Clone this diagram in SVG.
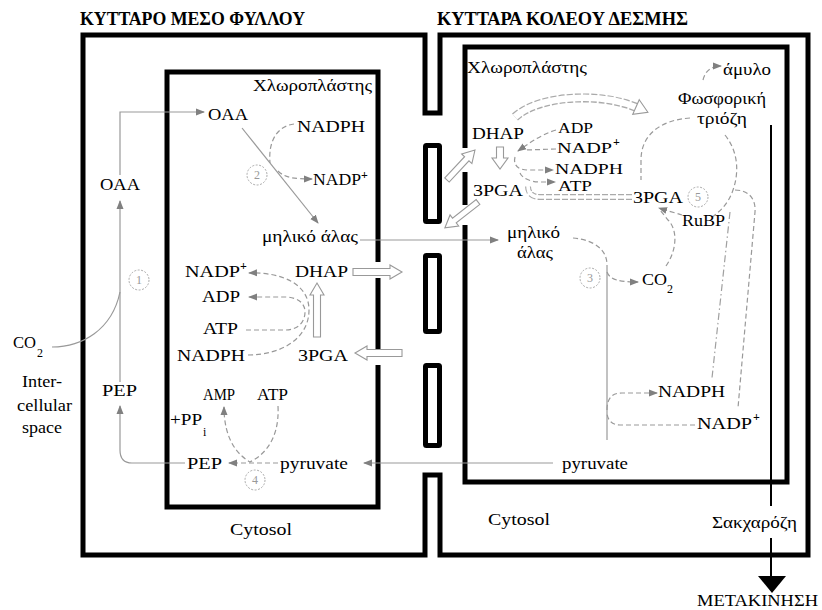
<svg xmlns="http://www.w3.org/2000/svg" width="822" height="610" viewBox="0 0 822 610">
<defs>
<marker id="ah" markerWidth="9" markerHeight="8" refX="8" refY="4" orient="auto" markerUnits="userSpaceOnUse">
<path d="M0,0.5 L9,4 L0,7.5 Z" fill="#808080"/>
</marker>
<style>
text{font-family:"Liberation Serif","DejaVu Serif",serif;fill:#000}
.t{font-size:17px}
.tt{font-size:15px}
.g{font-size:16px}
.s{font-size:12px}
.title{font-size:19px;font-weight:bold}
.wall{fill:none;stroke:#000;stroke-width:5;stroke-linejoin:miter}
.c{fill:none;stroke:#999;stroke-width:1.2}
.d{fill:none;stroke:#999;stroke-width:1.2;stroke-dasharray:5,3}
.dd{fill:none;stroke:#a0a0a0;stroke-width:1.2;stroke-dasharray:7,3,1.5,3}
.hollow{fill:#fff;stroke:#999;stroke-width:1.1}
.num circle{fill:none;stroke:#aaa;stroke-width:1;stroke-dasharray:2,1.5}
.num text{font-size:12px;fill:#999;text-anchor:middle}
</style>
</defs>

<g id="titles">
<text class="title" x="80" y="25" textLength="225" lengthAdjust="spacingAndGlyphs">ΚΥΤΤΑΡΟ ΜΕΣΟ ΦΥΛΛΟΥ</text>
<text class="title" x="437" y="25" textLength="251" lengthAdjust="spacingAndGlyphs">ΚΥΤΤΑΡΑ ΚΟΛΕΟΥ ΔΕΣΜΗΣ</text>
</g>

<g id="cell-walls">
<path class="wall" d="M83,35 L425,35 L425,113 L440,113 L440,35 L808,35 L808,555 L440,555 L440,475 L425,475 L425,555 L83,555 Z"/>
<rect class="wall" x="425.5" y="145.5" width="14" height="76" rx="1"/>
<rect class="wall" x="425.5" y="255.5" width="14" height="76" rx="1"/>
<rect class="wall" x="425.5" y="365.5" width="14" height="80" rx="1"/>
</g>

<g id="mesophyll-chloroplast">
<path class="wall" d="M378,262 L378,72 L167,72 L167,507 L378,507 L378,365 M378,350 L378,278"/>
<text class="g" x="253" y="91" textLength="119" lengthAdjust="spacingAndGlyphs">Χλωροπλάστης</text>
</g>

<g id="bundle-sheath-chloroplast">
<path class="wall" d="M465,148 L465,47 L787,47 L787,482 L465,482 L465,225 M465,205 L465,172"/>
<text class="g" x="467" y="73" textLength="120" lengthAdjust="spacingAndGlyphs">Χλωροπλάστης</text>
</g>

<g id="connectors">
<path class="c" d="M120,382 L120,201" marker-end="url(#ah)"/>
<path class="c" d="M120,175 L120,112 L204,112" marker-end="url(#ah)"/>
<path class="c" d="M52,347 C82,347 112,330 120,292"/>
<path class="c" d="M185,463 L132,463 C124,463 120,458 120,450 L120,406" marker-end="url(#ah)"/>
<path class="c" d="M553,463 L364,463" marker-end="url(#ah)"/>
<path class="c" d="M242,128 L318,223" marker-end="url(#ah)"/>
<path class="d" d="M294,124 C278,126 268,140 270,163"/>
<path class="d" d="M278,171 C285,178 295,179 312,179" marker-end="url(#ah)"/>
<path class="c" d="M360,240 L498,240" marker-end="url(#ah)"/>
<path class="d" d="M246,330 L285,330 C300,330 305,320 305,312 C305,302 296,297 285,297 L249,297" marker-end="url(#ah)"/>
<path class="d" d="M248,355 C282,355 309,338 309,310 C309,284 282,272 249,273" marker-end="url(#ah)"/>
<path class="d" d="M278,463 L229,463" marker-end="url(#ah)"/>
<path class="d" d="M278,406 C280,445 258,458 250,462 C238,455 224,440 224,407" marker-end="url(#ah)"/>
<polygon class="hollow" points="353,268.5 390,268.5 390,265 402,272 390,279 390,275.5 353,275.5"/>
<polygon class="hollow" points="402,349.5 367,349.5 367,346 355,353 367,360 367,356.5 402,356.5"/>
<polygon class="hollow" points="313.5,337 313.5,295 310,295 317,283 324,295 320.5,295 320.5,337"/>
<polygon class="hollow" transform="translate(447,180) rotate(-47)" points="0,-3 29,-3 29,-7 41,0 29,7 29,3 0,3"/>
<polygon class="hollow" transform="translate(478,202) rotate(142)" points="0,-3 30,-3 30,-7 42,0 30,7 30,3 0,3"/>
<polygon class="hollow" transform="translate(500,147) rotate(90)" points="0,-3.5 11,-3.5 11,-8 22,0 11,8 11,3.5 0,3.5"/>
<path d="M515,117 C540,95 600,92 638,108" fill="none" stroke="#aaa" stroke-width="9" stroke-dasharray="6,2"/>
<path d="M515,117 C540,95 600,92 638,108" fill="none" stroke="#fff" stroke-width="6.5"/>
<polygon class="hollow" transform="translate(636,107) rotate(24)" points="0,-8 13,0 0,8"/>
<path d="M632,197 L540,197 C532,197 528,193 528,186" fill="none" stroke="#aaa" stroke-width="6" stroke-dasharray="6,2"/>
<path d="M632,197 L540,197 C532,197 528,193 528,186" fill="none" stroke="#fff" stroke-width="3.5"/>
<path class="d" d="M556,130 C540,135 528,144 518,151" marker-end="url(#ah)"/>
<path class="d" d="M556,149 L526,150"/>
<path class="d" d="M515,157 C513,165 518,170 528,170 L553,170" marker-end="url(#ah)"/>
<path class="d" d="M520,173 C522,178 530,182 540,182 L555,182" marker-end="url(#ah)"/>
<path class="d" d="M690,118 C660,120 641,135 641,160 L641,180"/>
<path class="d" d="M725,135 C737,150 740,170 733,190 C728,205 718,213 712,217"/>
<path class="d" d="M682,215 C676,213 668,211 659,208" marker-end="url(#ah)"/>
<path class="d" d="M666,266 C677,250 678,230 668,220 L660,210"/>
<path class="d" d="M703,80 C705,72 710,66 721,66" marker-end="url(#ah)"/>
<path class="d" d="M573,238 C595,240 607,250 607,265"/>
<path class="c" d="M607,265 L607,440"/>
<path class="d" d="M607,272 C610,280 620,282 638,282" marker-end="url(#ah)"/>
<path class="d" d="M607,410 C607,398 612,393 622,393 L657,393" marker-end="url(#ah)"/>
<path class="d" d="M695,425 L620,425 C612,425 607,420 607,412"/>
<path class="dd" d="M730,212 L712,378"/>
<path class="d" d="M735,190 C748,190 756,198 755,212 L738,408"/>
<path d="M771,125 L771,506 M771,538 L771,578" fill="none" stroke="#000" stroke-width="2"/>
<polygon points="758,576 786,576 772,593" fill="#000"/>
</g>

<g id="labels-mesophyll">
<text class="t" x="208" y="120" textLength="40" lengthAdjust="spacingAndGlyphs">OAA</text>
<text class="t" x="297" y="132" textLength="68" lengthAdjust="spacingAndGlyphs">NADPH</text>
<text class="t" x="313" y="185" textLength="48" lengthAdjust="spacingAndGlyphs">NADP</text>
<text class="s" x="361" y="179" font-weight="bold">+</text>
<text class="g" x="262" y="242" textLength="96" lengthAdjust="spacingAndGlyphs">μηλικό άλας</text>
<text class="t" x="100" y="190" textLength="40" lengthAdjust="spacingAndGlyphs">OAA</text>
<text class="t" x="185" y="277" textLength="55" lengthAdjust="spacingAndGlyphs">NADP</text>
<text class="s" x="240" y="270" font-weight="bold">+</text>
<text class="t" x="295" y="277" textLength="53" lengthAdjust="spacingAndGlyphs">DHAP</text>
<text class="t" x="202" y="302" textLength="38" lengthAdjust="spacingAndGlyphs">ADP</text>
<text class="t" x="203" y="334" textLength="35" lengthAdjust="spacingAndGlyphs">ATP</text>
<text class="t" x="177" y="361" textLength="68" lengthAdjust="spacingAndGlyphs">NADPH</text>
<text class="t" x="298" y="361" textLength="50" lengthAdjust="spacingAndGlyphs">3PGA</text>
<text class="t" x="203" y="400" textLength="32" lengthAdjust="spacingAndGlyphs">AMP</text>
<text class="t" x="257" y="400" textLength="31" lengthAdjust="spacingAndGlyphs">ATP</text>
<text class="t" x="170" y="425" textLength="32" lengthAdjust="spacingAndGlyphs">+PP</text>
<text class="s" x="203" y="436">i</text>
<text class="t" x="187" y="469" textLength="35" lengthAdjust="spacingAndGlyphs">PEP</text>
<text class="g" x="280" y="469" textLength="68" lengthAdjust="spacingAndGlyphs">pyruvate</text>
<text class="t" x="102" y="396" textLength="35" lengthAdjust="spacingAndGlyphs">PEP</text>
<text class="t" x="13" y="348" textLength="23" lengthAdjust="spacingAndGlyphs">CO</text>
<text class="s" x="37" y="357">2</text>
<text class="g" x="22" y="387" textLength="40" lengthAdjust="spacingAndGlyphs">Inter-</text>
<text class="g" x="17" y="411" textLength="55" lengthAdjust="spacingAndGlyphs">cellular</text>
<text class="g" x="22" y="433" textLength="40" lengthAdjust="spacingAndGlyphs">space</text>
<text class="g" x="230" y="535" textLength="62" lengthAdjust="spacingAndGlyphs">Cytosol</text>
</g>

<g id="labels-bundle-sheath">
<text class="g" x="723" y="75" textLength="48" lengthAdjust="spacingAndGlyphs">άμυλο</text>
<text class="g" x="678" y="104" textLength="88" lengthAdjust="spacingAndGlyphs">Φωσφορική</text>
<text class="g" x="697" y="124" textLength="50" lengthAdjust="spacingAndGlyphs">τριόζη</text>
<text class="t" x="472" y="139" textLength="52" lengthAdjust="spacingAndGlyphs">DHAP</text>
<text class="tt" x="558" y="133" textLength="35" lengthAdjust="spacingAndGlyphs">ADP</text>
<text class="tt" x="557" y="153" textLength="55" lengthAdjust="spacingAndGlyphs">NADP</text>
<text class="s" x="613" y="146" font-weight="bold">+</text>
<text class="tt" x="555" y="174" textLength="68" lengthAdjust="spacingAndGlyphs">NADPH</text>
<text class="tt" x="558" y="191" textLength="34" lengthAdjust="spacingAndGlyphs">ATP</text>
<text class="t" x="473" y="196" textLength="50" lengthAdjust="spacingAndGlyphs">3PGA</text>
<text class="t" x="633" y="203" textLength="50" lengthAdjust="spacingAndGlyphs">3PGA</text>
<text class="t" x="682" y="226" textLength="43" lengthAdjust="spacingAndGlyphs">RuBP</text>
<text class="g" x="507" y="238" textLength="53" lengthAdjust="spacingAndGlyphs">μηλικό</text>
<text class="g" x="517" y="258" textLength="36" lengthAdjust="spacingAndGlyphs">άλας</text>
<text class="t" x="642" y="285" textLength="25" lengthAdjust="spacingAndGlyphs">CO</text>
<text class="s" x="667" y="293">2</text>
<text class="t" x="658" y="397" textLength="67" lengthAdjust="spacingAndGlyphs">NADPH</text>
<text class="t" x="697" y="429" textLength="55" lengthAdjust="spacingAndGlyphs">NADP</text>
<text class="s" x="753" y="421" font-weight="bold">+</text>
<text class="g" x="562" y="469" textLength="66" lengthAdjust="spacingAndGlyphs">pyruvate</text>
<text class="g" x="488" y="525" textLength="62" lengthAdjust="spacingAndGlyphs">Cytosol</text>
<text class="g" x="712" y="528" textLength="85" lengthAdjust="spacingAndGlyphs">Σακχαρόζη</text>
<text class="g" x="697" y="606" textLength="121" lengthAdjust="spacingAndGlyphs">ΜΕΤΑΚΙΝΗΣΗ</text>
</g>

<g id="step-numbers">
<g class="num" id="step1"><circle cx="139" cy="280" r="10"/><text x="139" y="284">1</text></g>
<g class="num" id="step2"><circle cx="257" cy="175" r="10"/><text x="257" y="179">2</text></g>
<g class="num" id="step3"><circle cx="590" cy="278" r="10"/><text x="590" y="282">3</text></g>
<g class="num" id="step4"><circle cx="255" cy="480" r="10"/><text x="255" y="484">4</text></g>
<g class="num" id="step5"><circle cx="698" cy="197" r="10"/><text x="698" y="201">5</text></g>
</g>
</svg>
